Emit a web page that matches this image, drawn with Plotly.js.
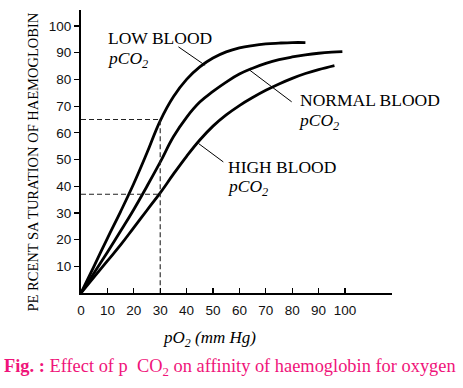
<!DOCTYPE html>
<html>
<head>
<meta charset="utf-8">
<script src="https://cdn.plot.ly/plotly-3.0.1.min.js"></script>
<style>html,body{margin:0;padding:0;background:#fff;}#chart{width:463px;height:388px;}</style>
</head>
<body>
<div id="chart"></div>
<script>
// ---- data ----
const pO2Low = [0,5,10,15,20,25,30,35,40,45,50,55,60,65,70,75,80,85];
const satLow = [0,10.2,20.5,30.5,41,52.5,64.5,73.5,80,84.7,88,90.3,91.8,92.7,93.3,93.6,93.8,93.8];

const pO2Normal = [0,5,10,15,20,25,30,35,40,45,50,55,60,65,70,75,80,85,90,95,99];
const satNormal = [0,7.6,15.3,23.2,31.3,40,49,58.5,65.8,71.5,75.5,79,82,84.2,86,87.4,88.4,89.2,89.8,90.2,90.4];

const pO2High = [0,5,10,15,20,25,30,35,40,45,50,55,60,65,70,75,80,85,90,96];
const satHigh = [0,6,12,18,24.5,31,37.5,44.5,51.2,57.3,62.5,66.7,70.2,73.2,75.9,78.3,80.4,82.2,83.7,85.2];

const refPO2 = 30;
const refSatLow = 65;
const refSatHigh = 37;

const xTicks = [0,10,20,30,40,50,60,70,80,90,100];
const yTicks = [10,20,30,40,50,60,70,80,90,100];

// ---- plot ----
const curveLine = {color:'#000', width:2.8, shape:'spline', smoothing:1.2};
const dashLine = {color:'#222', width:1.1, dash:'5px,3px'};

const traces = [
  {x:pO2Low, y:satLow, mode:'lines', line:curveLine, name:'Low', hoverinfo:'skip'},
  {x:pO2Normal, y:satNormal, mode:'lines', line:curveLine, name:'Normal', hoverinfo:'skip'},
  {x:pO2High, y:satHigh, mode:'lines', line:curveLine, name:'High', hoverinfo:'skip'},
  {x:[0, refPO2, refPO2], y:[refSatLow, refSatLow, 0], mode:'lines', line:dashLine, hoverinfo:'skip'},
  {x:[0, refPO2], y:[refSatHigh, refSatHigh], mode:'lines', line:dashLine, hoverinfo:'skip'}
];

const serif = 'Liberation Serif';
const labFont = {family:serif, size:17.5, color:'#000'};

function lab(text, x, y){
  return {text:text, x:x, y:y, xref:'x', yref:'y', xanchor:'left', yanchor:'middle', showarrow:false, font:labFont};
}
function leader(x0,y0,x1,y1){
  return {type:'line', xref:'x', yref:'y', x0:x0, y0:y0, x1:x1, y1:y1, line:{color:'#000', width:1}};
}

const layout = {
  width:463, height:388,
  margin:{l:81, r:71, t:10, b:95, pad:0},
  paper_bgcolor:'#fff', plot_bgcolor:'#fff',
  showlegend:false,
  title:{
    text:'<b>Fig. :</b> Effect of p&nbsp; CO<sub>2</sub> on affinity of haemoglobin for oxygen',
    font:{family:serif, size:18.4, color:'#f0147a'},
    x:4/463, xanchor:'left', xref:'container',
    y:(388-366)/388, yanchor:'middle', yref:'container'
  },
  xaxis:{
    range:[0,117.8], showgrid:false, zeroline:false,
    showline:true, linecolor:'#000', linewidth:2,
    ticks:'inside', ticklen:5, tickwidth:1.2, tickcolor:'#000',
    tickvals:xTicks, ticktext:xTicks.map(String),
    tickfont:{family:'Liberation Sans', size:13.5, color:'#111'},
    ticklabelstandoff:4
  },
  yaxis:{
    range:[0,106], showgrid:false, zeroline:false,
    showline:true, linecolor:'#000', linewidth:2,
    ticks:'outside', ticklen:5, tickwidth:1.2, tickcolor:'#000',
    tickvals:yTicks, ticktext:yTicks.map(String),
    tickfont:{family:'Liberation Sans', size:13.5, color:'#111'}
  },
  shapes:[
    leader(36.9,92.2,47.0,85.3),
    leader(64.0,83.4,79.8,71.6),
    leader(44.5,56.0,53.9,49.1)
  ],
  annotations:[
    lab('LOW BLOOD', 9.4, 95.4),
    lab('<i>pCO<sub>2</sub></i>', 9.2, 87.6),
    lab('NORMAL BLOOD', 82.2, 72.2),
    lab('<i>pCO<sub>2</sub></i>', 81.3, 64.4),
    lab('HIGH BLOOD', 54.9, 47.1),
    lab('<i>pCO<sub>2</sub></i>', 54.5, 39.4),
    {text:'<i>pO<sub>2</sub> (mm Hg)</i>', xref:'paper', yref:'paper', x:(209.5-81)/311, y:(293-339)/283,
     xanchor:'center', yanchor:'middle', showarrow:false, font:{family:serif, size:17, color:'#000'}},
    {text:'PE RCENT SA TURATION OF HAEMOGLOBIN', xref:'paper', yref:'paper', x:(32-81)/311, y:(293-162.5)/283,
     xanchor:'center', yanchor:'middle', textangle:-90, showarrow:false, font:{family:serif, size:14.5, color:'#000'}}
  ]
};

Plotly.newPlot('chart', traces, layout, {staticPlot:true, displayModeBar:false});
</script>
</body>
</html>
